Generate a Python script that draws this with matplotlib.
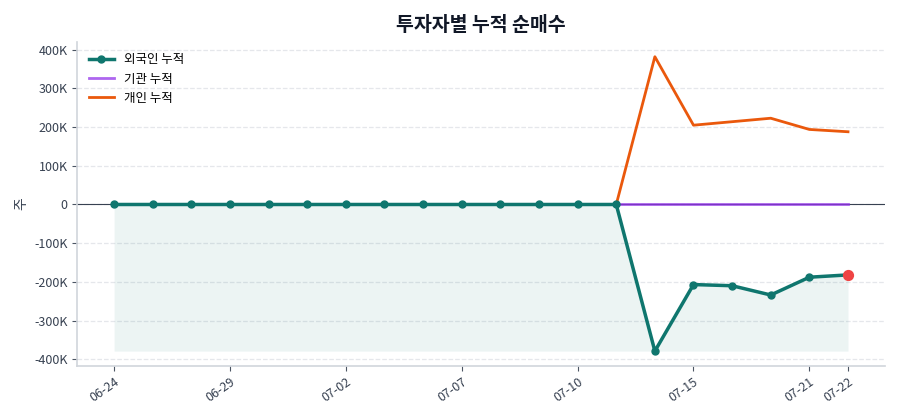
import matplotlib
matplotlib.use("Agg")
import matplotlib.pyplot as plt
from matplotlib.ticker import FuncFormatter

plt.rcParams['font.family'] = ['Noto Sans CJK KR', 'DejaVu Sans']
plt.rcParams['axes.unicode_minus'] = False

# data
dates = ['06-24', '06-25', '06-26', '06-29', '06-30', '07-01', '07-02', '07-03',
         '07-06', '07-07', '07-08', '07-09', '07-10', '07-13', '07-14', '07-15',
         '07-16', '07-17', '07-21', '07-22']
foreign_cum = [0, 0, 0, 0, 0, 0, 0, 0, 0, 0, 0, 0, 0, 0,
               -379000, -207000, -210000, -234000, -188000, -182000]
inst_cum = [0] * 20
indiv_cum = [0, 0, 0, 0, 0, 0, 0, 0, 0, 0, 0, 0, 0, 0,
             382000, 205000, 214000, 223000, 194000, 188000]
tick_idx = [0, 3, 6, 9, 12, 15, 18, 19]

GREEN = '#0f766e'
PURPLE = '#9333ea'
ORANGE = '#ea580c'
RED = '#ef4444'

fig = plt.figure(figsize=(9, 4.2), dpi=100)
ax = fig.add_axes([0.086, 0.129, 0.897, 0.771])

x = list(range(len(dates)))
ax.fill_between(x, foreign_cum, min(foreign_cum), color=GREEN, alpha=0.08, linewidth=0)
ax.axhline(0, color='#374151', lw=0.8, zorder=2.5)
ax.plot(x, inst_cum, color=PURPLE, lw=2, alpha=0.75, label='기관 누적', zorder=3)
ax.plot(x, indiv_cum, color=ORANGE, lw=2, label='개인 누적', zorder=3)
ax.plot(x, foreign_cum, color=GREEN, lw=2.5, marker='o', markersize=5,
        label='외국인 누적', zorder=4)
ax.scatter([x[-1]], [foreign_cum[-1]], color=RED, s=50, zorder=5)

ax.set_title('투자자별 누적 순매수', fontsize=14, fontweight='bold', color='#111827', pad=8)
ax.set_ylabel('주', color='#374151', fontsize=10)
ax.yaxis.set_major_formatter(FuncFormatter(lambda v, p: '0' if v == 0 else '%dK' % round(v / 1000)))
ax.set_yticks([-400000, -300000, -200000, -100000, 0, 100000, 200000, 300000, 400000])
ax.set_xticks(tick_idx)
ax.set_xticklabels([dates[i] for i in tick_idx], rotation=35, ha='right', rotation_mode='anchor')
ax.tick_params(colors='#4b5563', labelsize=9, labelcolor='#374151')

ax.grid(axis='y', linestyle='--', color='#e5e7eb', lw=0.9)
ax.set_axisbelow(True)
for s in ['top', 'right']:
    ax.spines[s].set_visible(False)
for s in ['left', 'bottom']:
    ax.spines[s].set_color('#d1d5db')
    ax.spines[s].set_linewidth(1.2)

h, l = ax.get_legend_handles_labels()
order = [2, 0, 1]
ax.legend([h[i] for i in order], [l[i] for i in order], loc='upper left', frameon=False, fontsize=9)

fig.savefig('out.png', dpi=100)
